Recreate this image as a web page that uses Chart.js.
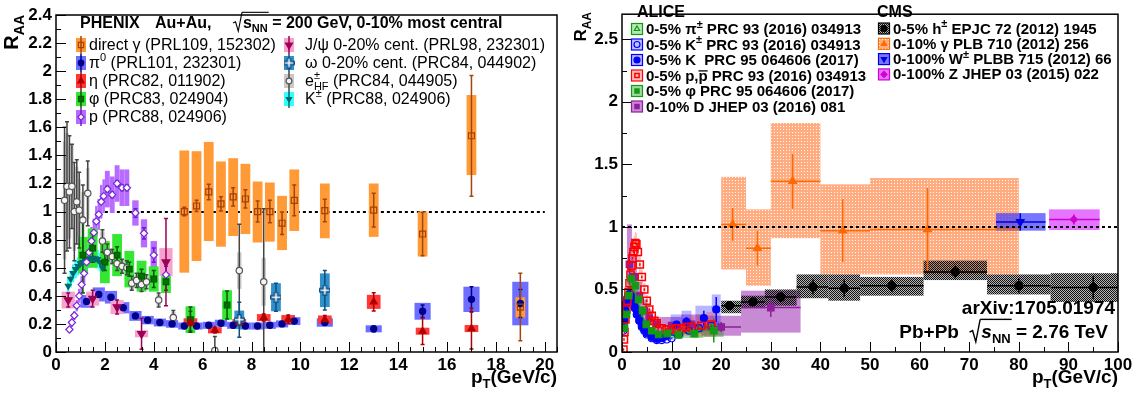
<!DOCTYPE html>
<html>
<head>
<meta charset="utf-8">
<title>R_AA PHENIX / LHC</title>
<script src="https://cdn.jsdelivr.net/npm/chart.js@4.4.1/dist/chart.umd.min.js"></script>
<style>
  html, body { margin:0; padding:0; background:#fff; }
  #page { position:relative; width:1142px; height:398px; overflow:hidden; }
  #page canvas { position:absolute; top:0; }
</style>
</head>
<body>
<div id="page">
  <canvas id="cL" width="570" height="398" style="left:0"></canvas>
  <canvas id="cR" width="572" height="398" style="left:570px"></canvas>
</div>
<script>
// ---------- left panel: PHENIX Au+Au 200 GeV, 0-10% ----------
const gamX = [5.25,5.75,6.25,6.75,7.25,7.75,8.25,8.75,9.25,9.75,11,13,15,17,19];
const gamY = [1.00,1.04,1.14,1.055,1.105,1.09,1.00,1.00,0.917,1.08,1.007,1.01,0.84,1.54,0.32];
const gamErr = [0.03,0.04,0.055,0.05,0.065,0.065,0.075,0.08,0.08,0.11,0.08,0.12,0.155,0.43,0.24];
const gamSysLo = [0.565,0.648,0.79,0.75,0.826,0.84,0.78,0.786,0.726,0.862,0.81,0.82,0.68,1.26,0.245];
const gamSysHi = [1.435,1.43,1.496,1.357,1.38,1.34,1.214,1.207,1.112,1.30,1.20,1.20,1.00,1.83,0.39];
const gamHalf = 0.2;

const pi0X = [1.25,1.75,2.25,2.75,3.25,3.75,4.25,4.75,5.25,5.75,6.25,6.75,7.25,7.75,8.25,8.75,9.25,9.75,11,13,15,17,19];
const pi0Y = [0.36,0.41,0.39,0.315,0.257,0.227,0.21,0.20,0.185,0.185,0.19,0.205,0.19,0.185,0.185,0.19,0.20,0.22,0.21,0.165,0.29,0.375,0.345];
const pi0Err = [0.01,0.01,0.01,0.01,0.01,0.01,0.01,0.01,0.01,0.01,0.01,0.01,0.01,0.01,0.01,0.01,0.01,0.012,0.015,0.02,0.045,0.09,0.1];
const pi0Sys = [0.045,0.05,0.045,0.04,0.035,0.03,0.028,0.027,0.025,0.025,0.025,0.025,0.025,0.025,0.025,0.025,0.025,0.028,0.03,0.025,0.06,0.09,0.155];
const pi0Half = [0.25,0.25,0.25,0.25,0.25,0.25,0.25,0.25,0.25,0.25,0.25,0.25,0.25,0.25,0.25,0.25,0.25,0.25,0.33,0.33,0.33,0.33,0.33];

const etaX = [5.5,6.5,7.5,8.5,9.5,11,13,15,17];
const etaY = [0.21,0.155,0.21,0.245,0.233,0.23,0.357,0.148,0.167];
const etaErr = [0.02,0.02,0.02,0.025,0.03,0.03,0.065,0.095,0.145];
const etaSys = [0.03,0.022,0.025,0.025,0.03,0.03,0.05,0.025,0.025];
const etaHalf = 0.28;

const phiX = [1.1,1.5,2.0,2.5,3.0,3.5,4.0,4.5,5.5,7.0];
const phiY = [0.69,0.74,0.64,0.69,0.59,0.54,0.52,0.50,0.23,0.335];
const phiErr = [0.27,0.1,0.06,0.06,0.05,0.05,0.06,0.06,0.09,0.1];
const phiSys = [0.13,0.14,0.15,0.15,0.13,0.11,0.09,0.08,0.095,0.105];
const phiHalf = 0.2;

const jpsiX = [0.5,1.5,2.5,3.5,4.5];
const jpsiY = [0.37,0.38,0.32,0.13,0.64];
const jpsiErr = [0.05,0.06,0.05,0.11,0.31];
const jpsiSys = [0.06,0.05,0.05,0.025,0.1];
const jpsiHalf = 0.27;

const omX = [7.5,9,11];
const omY = [0.23,0.39,0.44];
const omErr = [0.125,0.1,0.14];
const omSys = [0.065,0.1,0.12];
const omHalf = 0.2;

const ehfX = [0.35,0.45,0.55,0.65,0.75,0.85,0.95,1.1,1.3,1.9,2.1,2.3,2.5,2.7,2.9,3.1,3.3,3.5,3.7,4.2,4.8,5.5,6.5,7.5,8.5];
const ehfY = [1.08,1.18,1.14,1.18,1.00,1.07,1.01,0.94,1.13,0.79,0.71,0.68,0.63,0.61,0.60,0.49,0.51,0.48,0.50,0.37,0.245,0.22,0.01,0.58,0.50];
const ehfErr = [0.52,0.46,0.40,0.30,0.35,0.30,0.27,0.25,0.23,0.08,0.06,0.05,0.05,0.05,0.05,0.05,0.05,0.05,0.05,0.05,0.05,0.07,0.1,0.33,0.52];
const ehfSys = [0.42,0.38,0.33,0.30,0.28,0.25,0.22,0.20,0.18,0.07,0.06,0.06,0.05,0.05,0.05,0.05,0.05,0.05,0.05,0.04,0.04,0.03,0.0,0.13,0.17];
const ehfHalf = [0.07,0.07,0.07,0.07,0.07,0.07,0.07,0.07,0.07,0.09,0.09,0.09,0.09,0.09,0.09,0.09,0.09,0.09,0.09,0.09,0.09,0.09,0.09,0.09,0.09];

const prX = [0.55,0.65,0.75,0.85,0.95,1.05,1.15,1.25,1.35,1.45,1.55,1.65,1.75,1.85,1.95,2.1,2.3,2.5,2.7,2.9,3.25,3.6,4.0,4.5];
const prY = [0.16,0.21,0.26,0.33,0.40,0.48,0.56,0.64,0.71,0.79,0.85,0.93,0.98,1.07,1.11,1.16,1.12,1.20,1.17,1.17,0.99,0.845,0.69,0.55];
const prErr = [0.01,0.01,0.01,0.01,0.01,0.01,0.01,0.01,0.01,0.01,0.01,0.01,0.01,0.01,0.01,0.02,0.02,0.02,0.02,0.02,0.03,0.04,0.05,0.06];
const prSys = [0.02,0.03,0.03,0.04,0.05,0.06,0.07,0.08,0.09,0.1,0.1,0.11,0.11,0.12,0.12,0.13,0.13,0.13,0.13,0.13,0.09,0.1,0.1,0.1];
const prHalf = [0.05,0.05,0.05,0.05,0.05,0.05,0.05,0.05,0.05,0.05,0.05,0.05,0.05,0.05,0.05,0.1,0.1,0.1,0.1,0.1,0.13,0.13,0.13,0.13];

const kX = [0.5,0.6,0.7,0.8,0.9,1.0,1.1,1.2,1.3,1.4,1.5,1.6,1.7,1.8,1.9];
const kY = [0.47,0.52,0.56,0.59,0.61,0.63,0.64,0.655,0.66,0.665,0.67,0.665,0.66,0.64,0.60];
const kErr = 0.01;
const kSys = [0.06,0.06,0.065,0.065,0.065,0.065,0.065,0.065,0.065,0.065,0.065,0.065,0.065,0.065,0.065];
const kHalf = 0.05;

// ---------- right panel: LHC Pb+Pb 2.76 TeV ----------
const chX = [21.7,26.4,32.0,38.5,44.8,54.4,67.2,80.0,95.0];
const chLo = [20,24,28.8,35.2,41.6,48,60.8,73.6,86.4];
const chHi = [24,28.8,35.2,41.6,48,60.8,73.6,86.4,103.6];
const chY = [0.37,0.40,0.44,0.52,0.51,0.53,0.64,0.53,0.515];
const chErr = [0.02,0.03,0.04,0.06,0.07,0.05,0.05,0.06,0.09];
const chSysLo = [0.31,0.35,0.37,0.43,0.41,0.45,0.575,0.46,0.40];
const chSysHi = [0.41,0.45,0.50,0.62,0.62,0.60,0.73,0.62,0.63];

const cgX = [22.3,27.3,34.4,44.5,61.6];
const cgLo = [20,25,30,40,50];
const cgHi = [25,30,40,50,80];
const cgY = [1.02,0.83,1.365,0.97,0.98];
const cgErr = [0.13,0.14,0.22,0.25,0.33];
const cgSysLo = [0.66,0.53,0.91,0.62,0.62];
const cgSysHi = [1.40,1.14,1.83,1.34,1.39];

const cwX = [80.3], cwLo = [75.4], cwHi = [85.4], cwY = [1.04], cwErr = [0.07], cwSysLo = [0.97], cwSysHi = [1.11];
const czX = [91.1], czLo = [86.1], czHi = [96.3], czY = [1.06], czErr = [0.04], czSysLo = [0.975], czSysHi = [1.14];

const apiX = [0.6,0.8,1.0,1.25,1.5,1.75,2.0,2.5,3.0,3.5,4.0,4.5,5.0,6.0,7.0,8.0,9.0,10,11.5,13.5,15.5,18];
const apiY = [0.35,0.40,0.44,0.47,0.49,0.50,0.48,0.43,0.37,0.31,0.26,0.22,0.19,0.16,0.14,0.14,0.14,0.15,0.16,0.17,0.18,0.19];
const apiErr = 0.005;
const apiSys = [0.035,0.04,0.04,0.045,0.045,0.045,0.045,0.04,0.035,0.03,0.026,0.022,0.02,0.018,0.016,0.016,0.016,0.017,0.02,0.025,0.03,0.035];
const apiHalf = [0.1,0.1,0.1,0.125,0.125,0.125,0.125,0.25,0.25,0.25,0.25,0.25,0.25,0.5,0.5,0.5,0.5,0.5,1,1,1,1.5];

const akX = [0.25,0.35,0.45,0.6,0.8,1.0,1.25,1.5,1.75,2.0,2.5,3.0,3.5,4.0,4.5,5.0,6.0,7.0,8.0,9.0,10,11.5,13.5,15.5,18];
const akY = [0.17,0.22,0.27,0.33,0.38,0.42,0.45,0.46,0.45,0.42,0.36,0.30,0.25,0.20,0.17,0.14,0.11,0.095,0.095,0.10,0.11,0.14,0.17,0.19,0.21];
const akErr = 0.005;
const akSys = [0.02,0.025,0.03,0.035,0.035,0.04,0.04,0.04,0.04,0.04,0.035,0.03,0.025,0.02,0.02,0.015,0.012,0.01,0.01,0.012,0.015,0.02,0.025,0.03,0.035];
const akHalf = [0.05,0.05,0.05,0.1,0.1,0.1,0.125,0.125,0.125,0.125,0.25,0.25,0.25,0.25,0.25,0.25,0.5,0.5,0.5,0.5,0.5,1,1,1,1.5];

const ak0X = [0.5,0.7,0.9,1.1,1.3,1.5,1.8,2.2,2.6,3.0,3.5,4.0,4.5,5.0,6.0,7.0,8.0,9.0,11,13,16.5,19];
const ak0Y = [0.25,0.33,0.39,0.43,0.45,0.46,0.44,0.40,0.35,0.30,0.25,0.21,0.18,0.15,0.12,0.105,0.11,0.13,0.22,0.24,0.27,0.34];
const ak0Err = [0.005,0.005,0.005,0.005,0.005,0.005,0.005,0.005,0.005,0.005,0.005,0.005,0.005,0.005,0.005,0.005,0.005,0.01,0.03,0.04,0.06,0.1];
const ak0Sys = [0.03,0.035,0.04,0.04,0.045,0.045,0.045,0.04,0.035,0.03,0.025,0.02,0.02,0.015,0.015,0.015,0.02,0.03,0.08,0.09,0.1,0.12];
const ak0Half = [0.1,0.1,0.1,0.1,0.1,0.1,0.15,0.2,0.2,0.2,0.25,0.25,0.25,0.25,0.5,0.5,0.5,0.5,1.2,1,1.7,0.9];

const aprX = [0.3,0.4,0.5,0.7,0.9,1.1,1.3,1.5,1.7,1.9,2.1,2.3,2.5,2.7,2.9,3.2,3.6,4.0,4.5,5.0,5.5,6.0,6.5,7.0,8.0,9.0,10,11,12,13,14,16,18];
const aprY = [0.02,0.10,0.16,0.26,0.34,0.41,0.48,0.55,0.62,0.69,0.75,0.80,0.84,0.87,0.86,0.80,0.70,0.60,0.50,0.41,0.34,0.29,0.25,0.23,0.19,0.18,0.18,0.19,0.19,0.20,0.20,0.21,0.22];
const aprErr = 0.01;
const aprSys = [0.01,0.02,0.03,0.04,0.05,0.06,0.07,0.08,0.08,0.09,0.09,0.09,0.09,0.09,0.09,0.08,0.07,0.06,0.05,0.045,0.04,0.035,0.03,0.03,0.03,0.03,0.04,0.05,0.06,0.07,0.08,0.09,0.1];
const aprHalf = [0.05,0.05,0.05,0.1,0.1,0.1,0.1,0.1,0.1,0.1,0.1,0.1,0.1,0.1,0.1,0.2,0.2,0.2,0.25,0.25,0.25,0.25,0.25,0.25,0.5,0.5,0.5,0.5,0.5,0.5,0.5,1,1];

const aphX = [0.5,0.9,1.35,1.85,2.7,3.35,4.15,4.9,6.0,7.4,9.1,11.4,14.6,18.5];
const aphY = [0.19,0.30,0.45,0.585,0.53,0.42,0.33,0.22,0.17,0.14,0.147,0.137,0.147,0.17];
const aphErr = [0.01,0.01,0.01,0.01,0.01,0.01,0.01,0.01,0.01,0.015,0.02,0.02,0.03,0.095];
const aphSys = [0.03,0.04,0.05,0.06,0.05,0.045,0.035,0.03,0.025,0.02,0.02,0.025,0.035,0.05];
const aphHalf = [0.2,0.2,0.25,0.25,0.5,0.5,0.5,0.5,0.6,0.8,1,1.4,1.8,2];

const adX = [1.5,2.5,3.5,4.5,5.5,7,10,14,20,30];
const adLo = [1,2,3,4,5,6,8,12,16,24];
const adHi = [2,3,4,5,6,8,12,16,24,36];
const adY = [0.70,0.60,0.45,0.33,0.27,0.22,0.21,0.22,0.20,0.355];
const adErr = [0.1,0.04,0.03,0.02,0.02,0.02,0.02,0.03,0.04,0.075];
const adSysLo = [0.45,0.45,0.35,0.26,0.21,0.17,0.15,0.15,0.13,0.155];
const adSysHi = [1.02,0.78,0.56,0.42,0.34,0.28,0.28,0.30,0.29,0.49];

// ---------- helpers ----------
const FF = '"Liberation Sans", Arial, Helvetica, sans-serif';
const at = (v, i) => Array.isArray(v) ? v[i] : v;
const fmt = v => String(Math.round(v * 100) / 100);

function dots(base, dot, n) {
  const c = document.createElement('canvas'); c.width = c.height = n;
  const g = c.getContext('2d');
  g.fillStyle = base; g.fillRect(0, 0, n, n);
  g.fillStyle = dot; g.fillRect(0, 0, 1, 1);
  return g.createPattern(c, 'repeat');
}
function checker(a, b) {
  const c = document.createElement('canvas'); c.width = c.height = 2;
  const g = c.getContext('2d');
  g.fillStyle = b; g.fillRect(0, 0, 2, 2);
  g.fillStyle = a; g.fillRect(0, 0, 1, 1); g.fillRect(1, 1, 1, 1);
  return g.createPattern(c, 'repeat');
}
function openCross(col) {
  const c = document.createElement('canvas'); c.width = c.height = 11;
  const g = c.getContext('2d');
  g.translate(0.5, 0.5);
  g.beginPath();
  [[3.5,0],[6.5,0],[6.5,3.5],[10,3.5],[10,6.5],[6.5,6.5],[6.5,10],[3.5,10],[3.5,6.5],[0,6.5],[0,3.5],[3.5,3.5]]
    .forEach(([x, y], i) => i ? g.lineTo(x, y) : g.moveTo(x, y));
  g.closePath(); g.fillStyle = '#fff'; g.fill(); g.strokeStyle = col; g.lineWidth = 1.3; g.stroke();
  return c;
}

function series(o) {
  return {
    data: o.x.map((x, i) => ({ x, y: o.y[i] })),
    showLine: false,
    pointStyle: o.shape, pointRadius: o.r, pointHoverRadius: o.r, pointRotation: o.rot || 0,
    pointBackgroundColor: o.fill, pointBorderColor: o.line, pointBorderWidth: o.bw == null ? 1.2 : o.bw,
    order: 100 - o.layer,
    kName: o.name, kLayer: o.layer,
    kErr: o.x.map((x, i) => at(o.err, i)),
    kLo: o.sysLo || o.y.map((y, i) => y - at(o.sys, i)),
    kHi: o.sysHi || o.y.map((y, i) => y + at(o.sys, i)),
    kXl: o.xlo || o.x.map((x, i) => x - at(o.half, i)),
    kXh: o.xhi || o.x.map((x, i) => x + at(o.half, i)),
    kHbar: !!o.xlo,
    kBox: o.box, kBoxLine: o.boxLine || null, kErrC: o.errC || o.line, kCap: o.cap || 0,
    kShape: o.shape, kR: o.r, kRot: o.rot || 0, kFill: o.fill, kLine: o.line, kBw: o.bw == null ? 1.2 : o.bw
  };
}

function marker(ctx, ds, x, y, r) {
  ctx.save();
  ctx.fillStyle = ds.kFill; ctx.strokeStyle = ds.kLine; ctx.lineWidth = ds.kBw;
  if (Chart.helpers && Chart.helpers.drawPoint) {
    Chart.helpers.drawPoint(ctx, { pointStyle: ds.kShape, rotation: ds.kRot, radius: r == null ? ds.kR : r, borderWidth: ds.kBw }, x, y);
  } else {
    ctx.beginPath(); ctx.arc(x, y, r || ds.kR, 0, Math.PI * 2); ctx.fill(); ctx.stroke();
  }
  ctx.restore();
}

// rich text: segs = [[text, kind]], kind: sup | supn (no advance) | sub | bar | i | rad | radEnd
function rich(ctx, segs, x, y, size, weight, align) {
  const font = (s, k) => (k === 'i' ? 'italic ' : '') + weight + ' ' + s + 'px ' + FF;
  const items = segs.map(([t, k]) => {
    const s = (k === 'sup' || k === 'supn' || k === 'sub') ? Math.round(size * 0.7) : size;
    ctx.font = font(s, k);
    const w = k === 'rad' ? size * 0.62 : ctx.measureText(t).width;
    return { t, k, s, w };
  });
  const total = items.reduce((a, it) => a + (it.k === 'supn' ? 0 : it.w), 0);
  let cx = align === 'right' ? x - total : x, olX = 0;
  ctx.save();
  ctx.fillStyle = '#000'; ctx.strokeStyle = '#000'; ctx.textAlign = 'left'; ctx.textBaseline = 'alphabetic';
  items.forEach(it => {
    ctx.font = font(it.s, it.k);
    if (it.k === 'rad') {
      const h = size * 0.98;
      ctx.lineWidth = size > 17 ? 1.4 : 1.1;
      ctx.beginPath();
      ctx.moveTo(cx, y - h * 0.32); ctx.lineTo(cx + size * 0.16, y - h * 0.4);
      ctx.lineTo(cx + size * 0.33, y + size * 0.2); ctx.lineTo(cx + size * 0.56, y - h);
      ctx.stroke();
      olX = cx + size * 0.56;
    } else if (it.k === 'radEnd') {
      ctx.beginPath(); ctx.moveTo(olX, y - size * 0.98); ctx.lineTo(cx + 1, y - size * 0.98); ctx.stroke();
    } else {
      const dy = (it.k === 'sup' || it.k === 'supn') ? -size * 0.42 : it.k === 'sub' ? size * 0.28 : 0;
      ctx.fillText(it.t, cx, y + dy);
      if (it.k === 'bar') { ctx.lineWidth = 1.3; ctx.beginPath(); ctx.moveTo(cx, y - size * 0.64); ctx.lineTo(cx + it.w, y - size * 0.64); ctx.stroke(); }
    }
    if (it.k !== 'supn') cx += it.w;
  });
  ctx.restore();
  return total;
}

function yTitle(ctx, x, y, size) {
  ctx.save(); ctx.translate(x, y); ctx.rotate(-Math.PI / 2);
  rich(ctx, [['R'], ['AA', 'sub']], 0, 0, size, 'bold', 'right');
  ctx.restore();
}

// ROOT style frame + inward ticks + error boxes/bars
function rootPlot(cfg) {
  const unity = (chart) => {
    const { ctx, scales: { x: sx, y: sy } } = chart;
    const Y = Math.round(sy.getPixelForValue(1));
    ctx.save(); ctx.strokeStyle = '#000'; ctx.lineWidth = 2; ctx.setLineDash([3, 3]);
    ctx.beginPath(); ctx.moveTo(sx.getPixelForValue(cfg.unity[0]), Y); ctx.lineTo(sx.getPixelForValue(cfg.unity[1]), Y); ctx.stroke();
    ctx.restore();
  };
  return {
    id: 'root' + cfg.name,
    beforeDatasetsDraw(chart) {
      const { ctx, chartArea: a, scales: { x: sx, y: sy } } = chart;
      const sets = chart.data.datasets.slice().sort((p, q) => p.kLayer - q.kLayer);
      ctx.save();
      ctx.beginPath(); ctx.rect(a.left, a.top, a.right - a.left, a.bottom - a.top); ctx.clip();
      if (!cfg.unityOver) unity(chart);
      sets.forEach(ds => ds.data.forEach((p, i) => {
        const X0 = sx.getPixelForValue(ds.kXl[i]), X1 = sx.getPixelForValue(ds.kXh[i]);
        const Y0 = sy.getPixelForValue(ds.kHi[i]), Y1 = sy.getPixelForValue(ds.kLo[i]);
        ctx.fillStyle = ds.kBox; ctx.fillRect(X0, Y0, X1 - X0, Y1 - Y0);
        if (ds.kBoxLine) { ctx.strokeStyle = ds.kBoxLine; ctx.lineWidth = 1; ctx.strokeRect(X0 + 0.5, Y0 + 0.5, X1 - X0 - 1, Y1 - Y0 - 1); }
      }));
      sets.forEach(ds => {
        ctx.strokeStyle = ds.kErrC; ctx.lineWidth = 1.5;
        ds.data.forEach((p, i) => {
          const X = sx.getPixelForValue(p.x), Y = sy.getPixelForValue(p.y), e = ds.kErr[i];
          ctx.beginPath();
          if (e) {
            const Ya = sy.getPixelForValue(p.y + e), Yb = sy.getPixelForValue(p.y - e);
            ctx.moveTo(X, Ya); ctx.lineTo(X, Yb);
            if (ds.kCap) { ctx.moveTo(X - ds.kCap, Ya); ctx.lineTo(X + ds.kCap, Ya); ctx.moveTo(X - ds.kCap, Yb); ctx.lineTo(X + ds.kCap, Yb); }
          }
          if (ds.kHbar) { ctx.moveTo(sx.getPixelForValue(ds.kXl[i]), Y); ctx.lineTo(sx.getPixelForValue(ds.kXh[i]), Y); }
          ctx.stroke();
        });
      });
      ctx.restore();
    },
    afterDatasetsDraw(chart) {
      const { ctx, chartArea: a, scales: { x: sx, y: sy } } = chart;
      if (cfg.unityOver) unity(chart);
      ctx.save();
      ctx.strokeStyle = '#000'; ctx.lineWidth = 1;
      ctx.beginPath();
      const nx = Math.round((sx.max - sx.min) / cfg.xMin);
      for (let i = 0; i <= nx; i++) {
        const v = sx.min + i * cfg.xMin; if (v > sx.max + 1e-9) break;
        const X = Math.round(sx.getPixelForValue(v)) + 0.5, major = Math.abs(v / cfg.xMaj - Math.round(v / cfg.xMaj)) < 1e-6;
        ctx.moveTo(X, a.bottom); ctx.lineTo(X, a.bottom - (major ? 10 : 5));
      }
      const ny = Math.round((sy.max - sy.min) / cfg.yMin);
      for (let i = 0; i <= ny; i++) {
        const v = sy.min + i * cfg.yMin; if (v > sy.max + 1e-9) break;
        const Y = Math.round(sy.getPixelForValue(v)) + 0.5, major = Math.abs(v / cfg.yMaj - Math.round(v / cfg.yMaj)) < 1e-6;
        ctx.moveTo(a.left, Y); ctx.lineTo(a.left + (major ? 10 : 5), Y);
      }
      ctx.stroke();
      ctx.lineWidth = 1.5;
      ctx.strokeRect(a.left, a.top, a.right - a.left, a.bottom - a.top);
      ctx.translate(-cfg.ox, 0);
      cfg.deco(ctx, chart.data.datasets);
      ctx.restore();
    }
  };
}

function options(xmax, ymax, xstep, ystep, padTop, padRight, yWidth) {
  const tick = { color: '#000', font: { family: FF, size: 17, weight: 'bold' }, includeBounds: false, autoSkip: false, maxRotation: 0, callback: fmt };
  return {
    responsive: false, animation: false, devicePixelRatio: 1, events: [],
    layout: { padding: { top: padTop, right: padRight, left: 0, bottom: 0 } },
    plugins: { legend: { display: false }, tooltip: { enabled: false } },
    scales: {
      x: { type: 'linear', min: 0, max: xmax, afterFit: s => { s.height = 46; },
        grid: { display: false, drawTicks: false }, border: { display: false },
        ticks: Object.assign({}, tick, { stepSize: xstep, padding: 3 }) },
      y: { type: 'linear', min: 0, max: ymax, afterFit: s => { s.width = yWidth; },
        grid: { display: false, drawTicks: false }, border: { display: false },
        ticks: Object.assign({}, tick, { stepSize: ystep, padding: 4 }) }
    }
  };
}

// ---------- left chart ----------
const leftSets = [
  series({ name: 'ehf', x: ehfX, y: ehfY, err: ehfErr, sys: ehfSys, half: ehfHalf, shape: 'circle', r: 3.2, fill: '#f4f4f4', line: '#555', errC: '#444', box: '#c9c9c9', layer: 1, cap: 2 }),
  series({ name: 'pi0', x: pi0X, y: pi0Y, err: pi0Err, sys: pi0Sys, half: pi0Half, shape: 'circle', r: 3.1, fill: '#00008b', line: '#00008b', box: '#6d6dff', layer: 2, cap: 2 }),
  series({ name: 'k', x: kX, y: kY, err: kErr, sys: kSys, half: kHalf, shape: 'triangle', rot: 180, r: 3.3, fill: '#006a6a', line: '#006a6a', box: '#3ff', layer: 3, cap: 1 }),
  series({ name: 'p', x: prX, y: prY, err: prErr, sys: prSys, half: prHalf, shape: 'rectRot', r: 3.6, fill: '#fff', line: '#7a28d8', errC: '#6a1bc0', box: '#b86bff', layer: 4, cap: 2 }),
  series({ name: 'phi', x: phiX, y: phiY, err: phiErr, sys: phiSys, half: phiHalf, shape: 'rect', r: 4, fill: '#007000', line: '#005a00', box: '#35e635', layer: 5, cap: 2 }),
  series({ name: 'eta', x: etaX, y: etaY, err: etaErr, sys: etaSys, half: etaHalf, shape: 'triangle', r: 4, fill: '#b00000', line: '#b00000', box: '#ff3838', layer: 6, cap: 2 }),
  series({ name: 'om', x: omX, y: omY, err: omErr, sys: omSys, half: omHalf, shape: openCross('#0a4f86'), r: 5, fill: '#fff', line: '#0a4f86', box: '#3190c8', layer: 7, cap: 2 }),
  series({ name: 'jpsi', x: jpsiX, y: jpsiY, err: jpsiErr, sys: jpsiSys, half: jpsiHalf, shape: 'triangle', rot: 180, r: 4.5, fill: '#9c0055', line: '#9c0055', box: '#f7a1cf', layer: 8, cap: 2 }),
  series({ name: 'gam', x: gamX, y: gamY, err: gamErr, sysLo: gamSysLo, sysHi: gamSysHi, half: gamHalf, shape: 'rect', r: 4.2, fill: 'rgba(0,0,0,0)', line: '#a84000', errC: '#a5440f', box: '#ff9a36', layer: 9, cap: 2 })
];

function legL(ctx, ds, x, y) {
  ctx.save();
  ctx.fillStyle = ds.kBox; ctx.fillRect(x - 5, y - 7, 10, 14);
  ctx.strokeStyle = ds.kErrC; ctx.lineWidth = 1.5;
  ctx.beginPath(); ctx.moveTo(x, y - 9); ctx.lineTo(x, y + 9); ctx.stroke();
  ctx.restore();
  marker(ctx, ds, x, y, ds.kR * 0.9);
}

function leftDeco(ctx, sets) {
  const by = n => sets.find(d => d.kName === n);
  rich(ctx, [['PHENIX']], 80, 28, 16, 'bold');
  rich(ctx, [['Au+Au,']], 155, 28, 16, 'bold');
  rich(ctx, [['', 'rad'], ['s'], ['NN', 'sub'], ['', 'radEnd'], [' = 200 GeV, 0-10% most central']], 233, 28, 16, 'bold');
  const col1 = [
    ['gam', [['direct γ (PRL109, 152302)']]],
    ['pi0', [['π'], ['0', 'sup'], [' (PRL101, 232301)']]],
    ['eta', [['η (PRC82, 011902)']]],
    ['phi', [['φ (PRC83, 024904)']]],
    ['p', [['p (PRC88, 024906)']]]
  ];
  const col2 = [
    ['jpsi', [['J/ψ 0-20% cent. (PRL98, 232301)']]],
    ['om', [['ω 0-20% cent. (PRC84, 044902)']]],
    ['ehf', [['e'], ['±', 'supn'], ['HF', 'sub'], [' (PRC84, 044905)']]],
    ['k', [['K'], ['±', 'sup'], [' (PRC88, 024906)']]]
  ];
  col1.forEach(([n, segs], i) => { const yb = 50 + 18 * i; legL(ctx, by(n), 81, yb - 5); rich(ctx, segs, 89, yb, 16, 'normal'); });
  col2.forEach(([n, segs], i) => { const yb = 50 + 18 * i; legL(ctx, by(n), 289, yb - 5); rich(ctx, segs, 305, yb, 16, 'normal'); });
  yTitle(ctx, 18, 15, 20);
  rich(ctx, [['p'], ['T', 'sub'], ['(GeV/c)']], 557, 383, 19, 'bold', 'right');
}

new Chart(document.getElementById('cL'), {
  type: 'scatter',
  data: { datasets: leftSets },
  options: options(20.5, 2.4, 2, 0.2, 15, 13, 56),
  plugins: [rootPlot({ name: 'L', ox: 0, unity: [2, 20], unityOver: false, xMaj: 2, xMin: 0.5, yMaj: 0.2, yMin: 0.1, deco: leftDeco })]
});

// ---------- right chart ----------
const orangeDots = dots('rgba(255,140,80,0.72)', 'rgba(255,255,255,0.95)', 3);
const blackChk = checker('rgba(0,0,0,0.9)', 'rgba(90,90,90,0.45)');

const rightSets = [
  series({ name: 'cg', x: cgX, y: cgY, err: cgErr, sysLo: cgSysLo, sysHi: cgSysHi, xlo: cgLo, xhi: cgHi, shape: 'triangle', r: 4.5, fill: '#ff6a00', line: '#ff6a00', box: orangeDots, layer: 1 }),
  series({ name: 'ad', x: adX, y: adY, err: adErr, sysLo: adSysLo, sysHi: adSysHi, xlo: adLo, xhi: adHi, shape: 'rect', r: 4.6, fill: '#8e1f9a', line: '#8e1f9a', box: 'rgba(165,60,185,0.6)', layer: 2 }),
  series({ name: 'api', x: apiX, y: apiY, err: apiErr, sys: apiSys, half: apiHalf, shape: 'triangle', r: 4, fill: 'rgba(0,0,0,0)', line: '#119911', box: 'rgba(40,190,40,0.35)', layer: 3 }),
  series({ name: 'ak', x: akX, y: akY, err: akErr, sys: akSys, half: akHalf, shape: 'circle', r: 3.5, fill: 'rgba(0,0,0,0)', line: '#0000ff', box: 'rgba(30,30,255,0.28)', layer: 4 }),
  series({ name: 'ak0', x: ak0X, y: ak0Y, err: ak0Err, sys: ak0Sys, half: ak0Half, shape: 'circle', r: 3.5, fill: '#0000ff', line: '#0000ff', box: 'rgba(30,30,255,0.32)', layer: 5 }),
  series({ name: 'apr', x: aprX, y: aprY, err: aprErr, sys: aprSys, half: aprHalf, shape: 'rect', r: 5, fill: 'rgba(0,0,0,0)', line: '#ff0000', bw: 1.5, box: 'rgba(255,70,70,0.35)', layer: 6 }),
  series({ name: 'aph', x: aphX, y: aphY, err: aphErr, sys: aphSys, half: aphHalf, shape: 'rect', r: 4.6, fill: '#159a15', line: '#159a15', box: 'rgba(20,160,20,0.4)', layer: 7 }),
  series({ name: 'ch', x: chX, y: chY, err: chErr, sysLo: chSysLo, sysHi: chSysHi, xlo: chLo, xhi: chHi, shape: 'circle', r: 4, fill: '#000', line: '#000', box: blackChk, layer: 8 }),
  series({ name: 'cw', x: cwX, y: cwY, err: cwErr, sysLo: cwSysLo, sysHi: cwSysHi, xlo: cwLo, xhi: cwHi, shape: 'triangle', rot: 180, r: 4.5, fill: '#0000e0', line: '#0000e0', box: 'rgba(60,60,255,0.7)', layer: 9 }),
  series({ name: 'cz', x: czX, y: czY, err: czErr, sysLo: czSysLo, sysHi: czSysHi, xlo: czLo, xhi: czHi, shape: 'rectRot', r: 3.5, fill: '#d000d0', line: '#d000d0', box: 'rgba(220,70,255,0.75)', layer: 10 })
];

function legR(ctx, ds, x, y) {
  ctx.save();
  ctx.fillStyle = ds.kBox; ctx.fillRect(x - 5.5, y - 5.5, 11, 11);
  ctx.strokeStyle = ds.kLine; ctx.lineWidth = 1.2; ctx.strokeRect(x - 5.5, y - 5.5, 11, 11);
  ctx.restore();
  marker(ctx, ds, x, y, 3);
}

function rightDeco(ctx, sets) {
  const by = n => sets.find(d => d.kName === n);
  rich(ctx, [['ALICE']], 637, 17, 16, 'bold');
  rich(ctx, [['CMS']], 877, 17, 16, 'bold');
  const alice = [
    ['api', [['0-5% π'], ['±', 'sup'], [' PRC 93 (2016) 034913']]],
    ['ak', [['0-5% K'], ['±', 'sup'], [' PRC 93 (2016) 034913']]],
    ['ak0', [['0-5% K  PRC 95 064606 (2017)']]],
    ['apr', [['0-5% p,'], ['p', 'bar'], [' PRC 93 (2016) 034913']]],
    ['aph', [['0-5% φ PRC 95 064606 (2017)']]],
    ['ad', [['0-10% D JHEP 03 (2016) 081']]]
  ];
  const cms = [
    ['ch', [['0-5% h'], ['±', 'sup'], [' EPJC 72 (2012) 1945']]],
    ['cg', [['0-10% γ PLB 710 (2012) 256']]],
    ['cw', [['0-100% W'], ['±', 'sup'], [' PLBB 715 (2012) 66']]],
    ['cz', [['0-100% Z JHEP 03 (2015) 022']]]
  ];
  alice.forEach(([n, segs], i) => { const yb = 34 + 15.5 * i; legR(ctx, by(n), 637, yb - 5); rich(ctx, segs, 646, yb, 15, 'bold'); });
  cms.forEach(([n, segs], i) => { const yb = 33.5 + 15.3 * i; legR(ctx, by(n), 884, yb - 5); rich(ctx, segs, 893, yb, 15, 'bold'); });
  rich(ctx, [['arXiv:1705.01974']], 1115, 314, 19, 'bold', 'right');
  rich(ctx, [['Pb+Pb  '], ['', 'rad'], ['s', 'i'], ['NN', 'sub'], ['', 'radEnd'], [' = 2.76 TeV']], 1108, 338, 19, 'bold', 'right');
  yTitle(ctx, 586, 12, 17);
  rich(ctx, [['p'], ['T', 'sub'], ['(GeV/c)']], 1118, 383, 19, 'bold', 'right');
}

new Chart(document.getElementById('cR'), {
  type: 'scatter',
  data: { datasets: rightSets },
  options: options(100, 2.7, 10, 0.5, 3, 24, 52),
  plugins: [rootPlot({ name: 'R', ox: 570, unity: [0, 100], unityOver: true, xMaj: 10, xMin: 5, yMaj: 0.5, yMin: 0.25, deco: rightDeco })]
});
</script>
</body>
</html>
